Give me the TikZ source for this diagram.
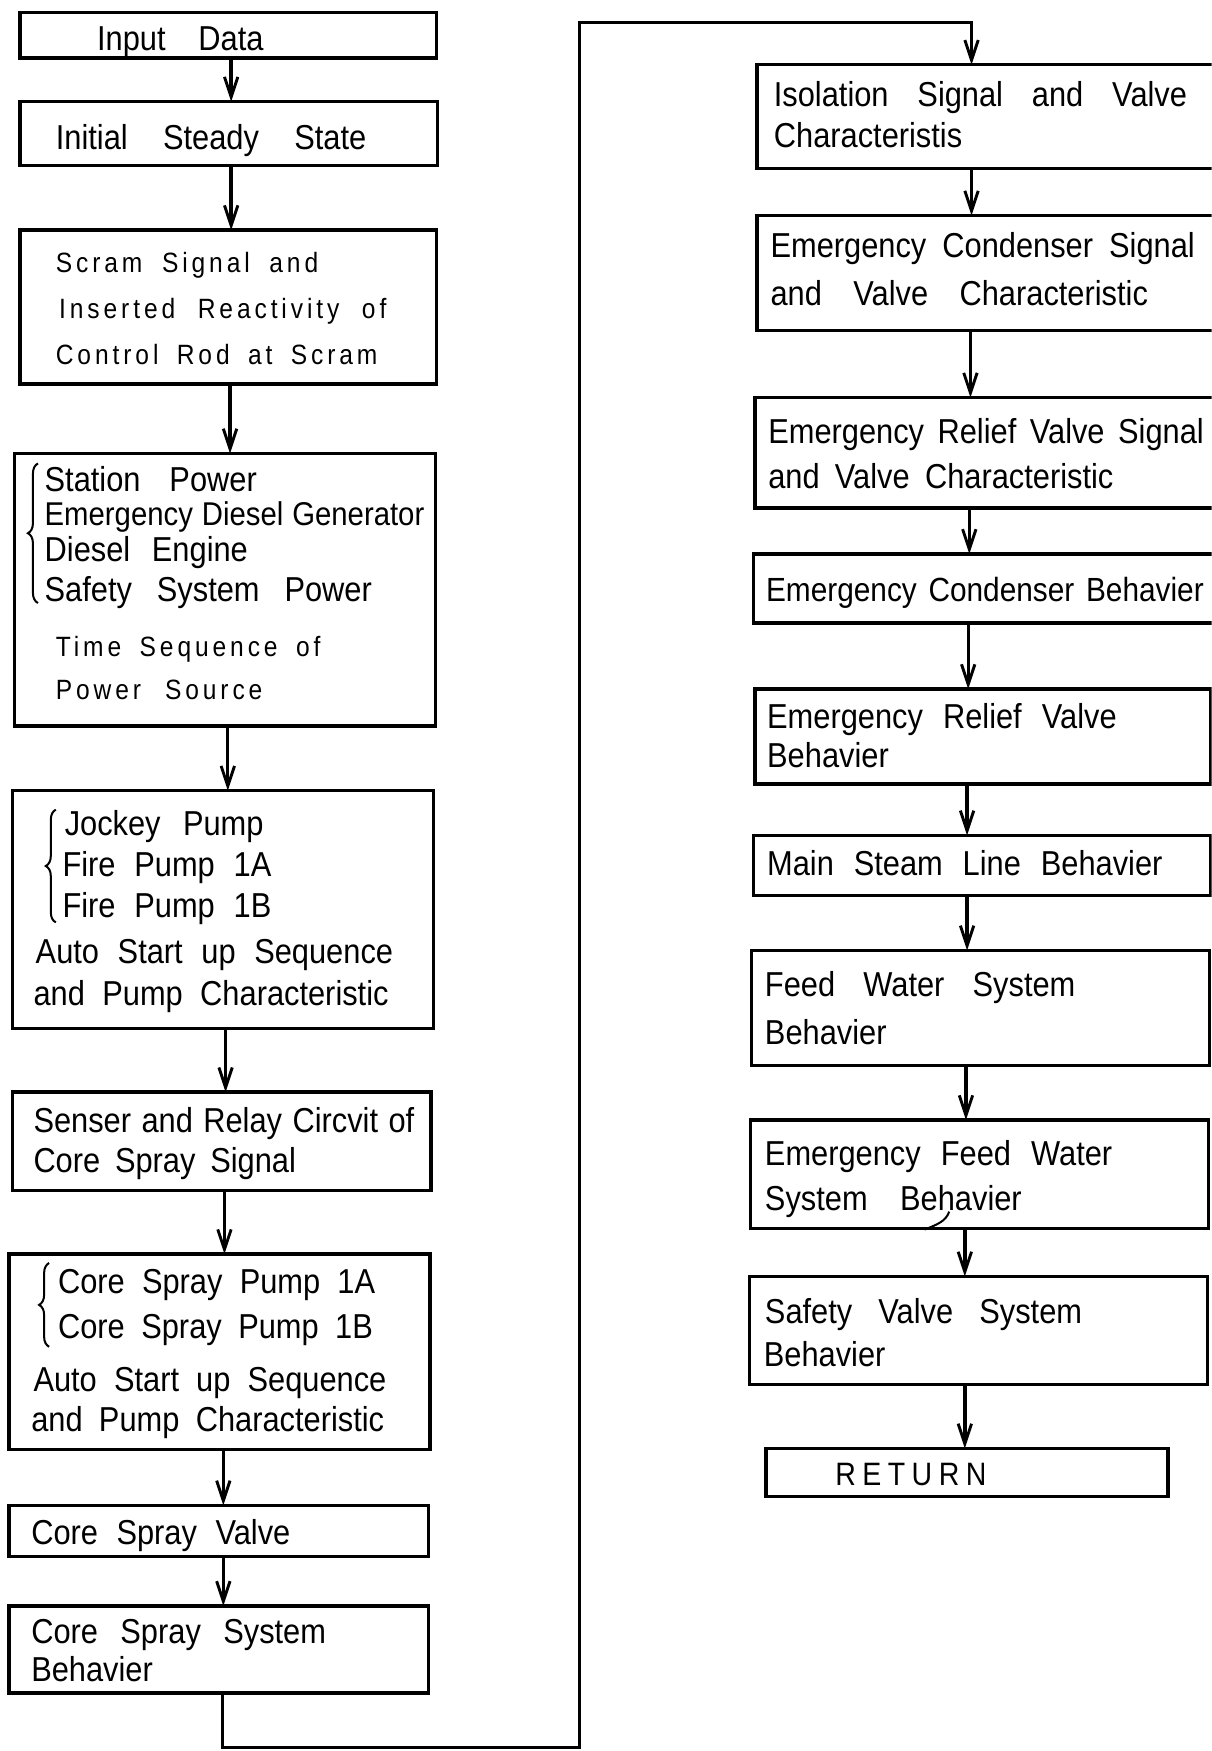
\documentclass[tikz,border=0pt]{standalone}
\usepackage{fontspec}
\setmainfont{Liberation Sans}[FakeStretch=0.89]
\newfontfamily\spacedfont{Liberation Sans}[FakeStretch=0.88, LetterSpace=14]
\newfontfamily\widefont{Liberation Sans}[FakeStretch=0.88, LetterSpace=20]
\usetikzlibrary{arrows.meta,decorations.pathreplacing}
\newcommand\mybox[5]{\node[box, minimum width={#4-#2}, minimum height={#5-#3}] (#1) at ({(#2+#4)/2},{(#3+#5)/2}) {};}
\newcommand\myline[5]{\pgfmathsetlengthmacro\mywd{#3-#2}\node[txt] (#1) at (#2,{#4+10}) {\makebox[\mywd][s]{#5}};}
\newcommand\spc[1]{\spacedfont\fontsize{25}{30}\selectfont #1}
\begin{document}
\begin{tikzpicture}[x=1pt,y=-1pt,
  box/.style={draw, line width=3pt, rectangle, inner sep=0pt, outer sep=0pt},
  txt/.style={anchor=base west, inner sep=0pt, outer sep=0pt, font=\fontsize{31}{37}\selectfont},
  arr/.style={line width=3pt, -{Straight Barb[length=18pt,width=12pt,line width=2.6pt]}},
  brc/.style={line width=1.8pt, decorate, decoration={brace, amplitude=9pt}}]
\useasboundingbox (0,0) rectangle (1085,1568);
\clip (0,0) rectangle (1085,1568);
% left column boxes
\mybox{b1}{18}{11}{391}{52}
\mybox{b2}{18}{91}{392}{148}
\mybox{b3}{18}{206}{391}{344}
\mybox{b4}{13}{406}{390}{650}
\mybox{b5}{11}{708}{388}{921}
\mybox{b6}{11}{978}{386}{1066}
\mybox{b7}{8}{1123}{385}{1298}
\mybox{b8}{8}{1348}{384}{1394}
\mybox{b9}{8}{1438}{384}{1516}
% right column boxes
\mybox{r1}{678}{58}{1094}{151}
\mybox{r2}{678}{193}{1094}{296}
\mybox{r3}{676}{356}{1094}{455}
\mybox{r4}{675}{496}{1094}{558}
\mybox{r5}{676}{617}{1084}{702}
\mybox{r6}{675}{748}{1084}{802}
\mybox{r7}{673}{851}{1083}{954}
\mybox{r8}{672}{1003}{1082}{1100}
\mybox{r9}{671}{1143}{1081}{1240}
\mybox{r10}{686}{1297}{1046}{1340}
% left texts
\myline{t1}{87}{236}{35}{Input Data}
\myline{t2}{50}{328}{124}{Initial Steady State}
\myline{t3}{50}{285}{234}{\spc{Scram Signal and}}
\myline{t4}{53}{346}{275}{\spc{Inserted Reactivity of}}
\myline{t5}{50}{338}{316}{\spc{Control Rod at Scram}}
\myline{t6}{40}{230}{430}{Station Power}
\myline{t7}{40}{380}{461}{\fontsize{29.5}{36}\selectfont Emergency Diesel Generator}
\myline{t8}{40}{222}{493}{Diesel Engine}
\myline{t9}{40}{333}{529}{Safety System Power}
\myline{t10}{50}{287}{578}{\spc{Time Sequence of}}
\myline{t11}{50}{235}{616}{\spc{Power Source}}
\myline{t12}{58}{236}{738}{Jockey Pump}
\myline{t13}{56}{243}{775}{Fire Pump 1A}
\myline{t14}{56}{243}{812}{Fire Pump 1B}
\myline{t15}{32}{352}{853}{Auto Start up Sequence}
\myline{t16}{30}{348}{890}{and Pump Characteristic}
\myline{t17}{30}{371}{1004}{Senser and Relay Circvit of}
\myline{t18}{30}{265}{1040}{Core Spray Signal}
\myline{t19}{52}{336}{1148}{Core Spray Pump 1A}
\myline{t20}{52}{334}{1189}{Core Spray Pump 1B}
\myline{t21}{30}{346}{1236}{Auto Start up Sequence}
\myline{t22}{28}{344}{1272}{and Pump Characteristic}
\myline{t23}{28}{260}{1373}{Core Spray Valve}
\myline{t24}{28}{292}{1462}{Core Spray System}
\myline{t25}{28}{145}{1496}{Behavier}
% right texts
\myline{u1}{693}{1063}{85}{Isolation Signal and Valve}
\myline{u2}{693}{876}{122}{Characteristis}
\myline{u3}{690}{1070}{221}{Emergency Condenser Signal}
\myline{u4}{690}{1028}{264}{and Valve Characteristic}
\myline{u5}{688}{1078}{387}{Emergency Relief Valve Signal}
\myline{u6}{688}{997}{427}{and Valve Characteristic}
\myline{u7}{686}{1078}{529}{\fontsize{30}{36}\selectfont Emergency Condenser Behavier}
\myline{u8}{687}{1000}{642}{Emergency Relief Valve}
\myline{u9}{687}{797}{677}{Behavier}
\myline{u10}{687}{1041}{774}{Main Steam Line Behavier}
\myline{u11}{685}{963}{882}{Feed Water System}
\myline{u12}{685}{796}{925}{Behavier}
\myline{u13}{685}{996}{1034}{Emergency Feed Water}
\myline{u14}{685}{915}{1074}{System Behavier}
\myline{u15}{685}{969}{1175}{Safety Valve System}
\myline{u16}{684}{794}{1214}{Behavier}
\myline{u17}{748}{886}{1320}{\widefont\fontsize{29}{34}\selectfont RETURN}
% braces
\draw[brc] (34,540) -- (34,415);
\draw[brc] (50,826) -- (50,725);
\draw[brc] (44,1206) -- (44,1131);
% left arrows
\draw[arr] (b1.south -| 207,0) -- (b2.north -| 207,0);
\draw[arr] (b2.south -| 207,0) -- (b3.north -| 207,0);
\draw[arr] (b3.south -| 206,0) -- (b4.north -| 206,0);
\draw[arr] (b4.south -| 204,0) -- (b5.north -| 204,0);
\draw[arr] (b5.south -| 202,0) -- (b6.north -| 202,0);
\draw[arr] (b6.south -| 201,0) -- (b7.north -| 201,0);
\draw[arr] (b7.south -| 200,0) -- (b8.north -| 200,0);
\draw[arr] (b8.south -| 200,0) -- (b9.north -| 200,0);
% loop connector
\draw[arr] (b9.south -| 199,0) -- (199,1565) -- (519,1565) -- (519,20) -- (870,20) -- (r1.north -| 870,0);
% right arrows
\draw[arr] (r1.south -| 870,0) -- (r2.north -| 870,0);
\draw[arr] (r2.south -| 869,0) -- (r3.north -| 869,0);
\draw[arr] (r3.south -| 868,0) -- (r4.north -| 868,0);
\draw[arr] (r4.south -| 867,0) -- (r5.north -| 867,0);
\draw[arr] (r5.south -| 866,0) -- (r6.north -| 866,0);
\draw[arr] (r6.south -| 866,0) -- (r7.north -| 866,0);
\draw[arr] (r7.south -| 865,0) -- (r8.north -| 865,0);
\draw[arr] (r8.south -| 864,0) -- (r9.north -| 864,0);
\draw[arr] (r9.south -| 864,0) -- (r10.north -| 864,0);
% stray pen mark
\draw[line width=1.8pt] (850,1085) .. controls (847,1094) and (838,1097) .. (828,1101);
\end{tikzpicture}
\end{document}
